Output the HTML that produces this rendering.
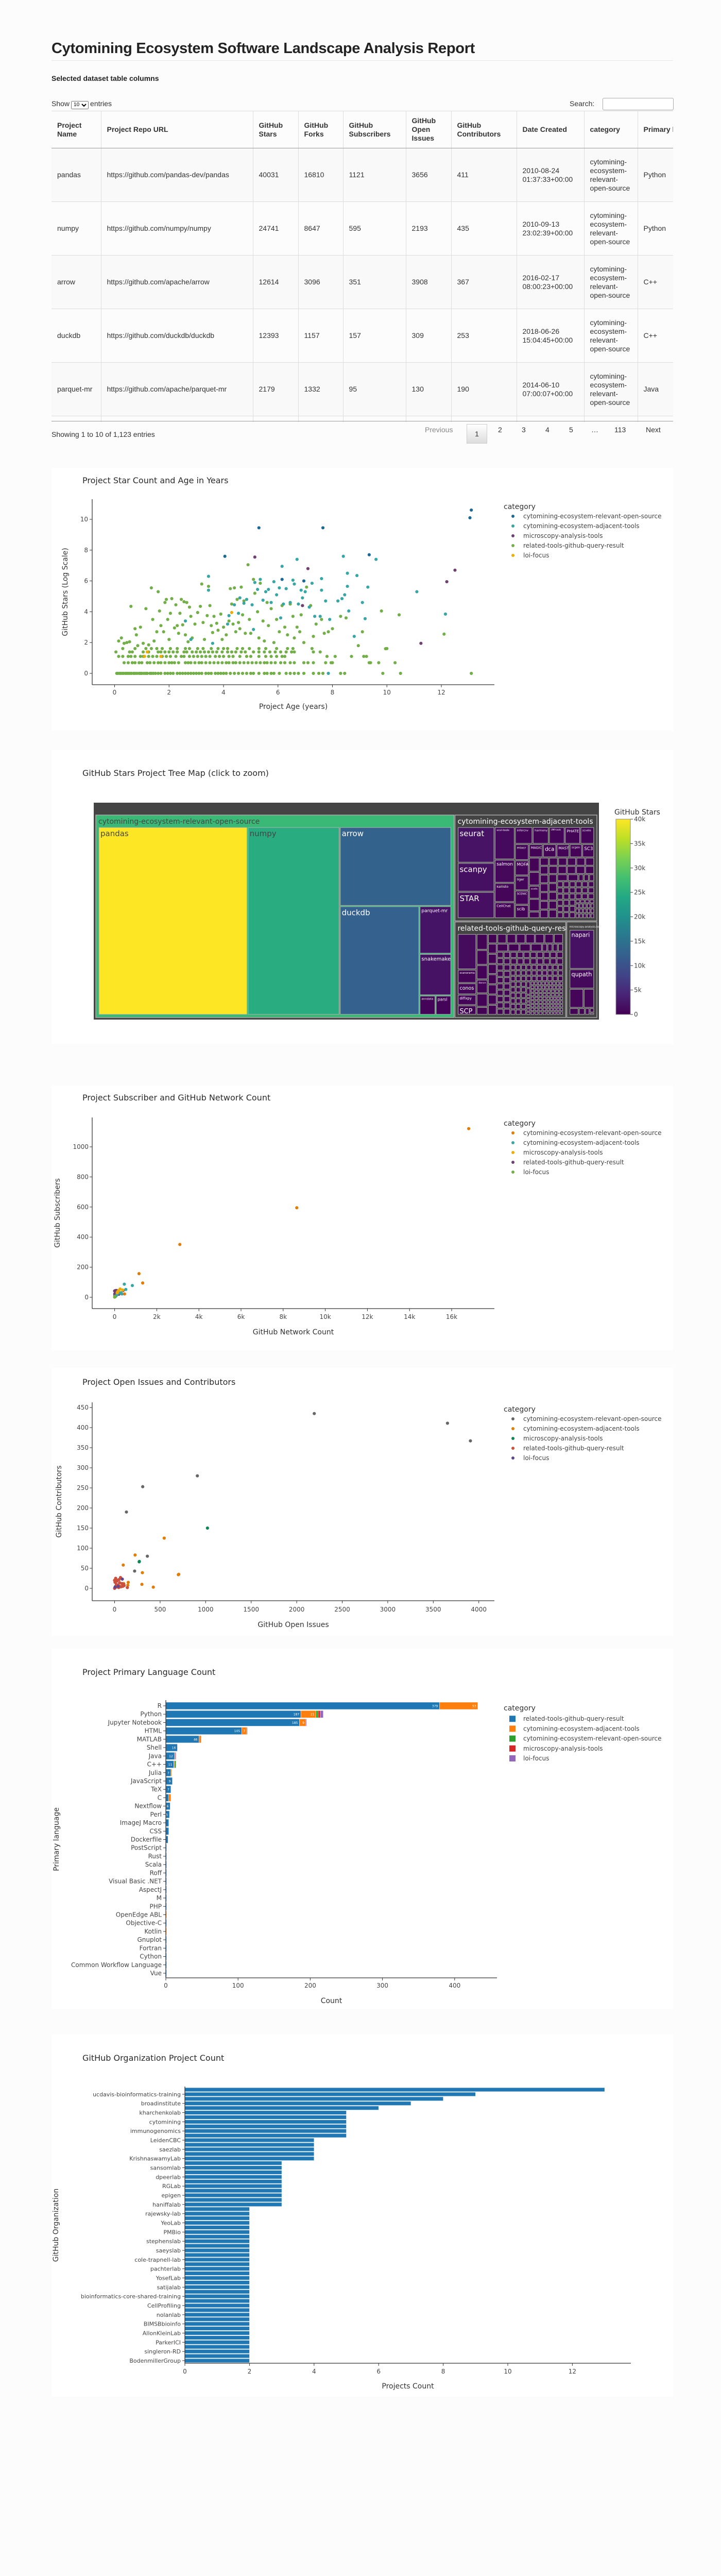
<!DOCTYPE html>
<html><head><meta charset="utf-8">
<style>
html{margin:0;padding:0;width:1400px;height:5200px;overflow:hidden}
body{margin:0;padding:0;width:1400px;height:5200px;background:#fcfcfc;position:relative;font-family:"Liberation Sans",Arial,sans-serif;color:#333;overflow:hidden}
.card{position:absolute;left:100px;width:1207px;background:#fff}
h1{position:absolute;left:100px;top:78px;margin:0;font-size:29px;font-weight:bold;color:#222;letter-spacing:-0.3px}
.hr{position:absolute;left:100px;top:117px;width:1207px;height:1px;background:#e6e6e6}
.sub{position:absolute;left:100px;top:144px;font-size:14px;font-weight:bold;color:#222}
.show{position:absolute;left:100px;top:193px;font-size:14px}
.show select{font-size:10px;height:16px;margin:0 3px}
.search{position:absolute;left:1106px;top:193px;font-size:14px}
.search input{position:absolute;left:64px;top:-3px;width:132px;height:20px;border:1px solid #aaa;border-radius:3px}
.tw{position:absolute;left:100px;top:215px;width:1207px;height:603px;overflow:hidden;border-top:1px solid #ddd}
table{border-collapse:collapse;table-layout:fixed;width:1300px;font-size:14px}
th{height:71px;text-align:left;vertical-align:middle;padding:0 11px;font-weight:bold;border-bottom:1px solid #999;border-right:1px solid #ddd;line-height:17px;position:relative}
td{height:103px;padding:0 11px;border-right:1px solid #ddd;border-bottom:1px solid #ddd;line-height:17px;vertical-align:middle}
tr.odd td{background:#f9f9f9}
.tbot{position:absolute;left:100px;top:817px;width:1207px;height:1px;background:#999}
.info{position:absolute;left:100px;top:835px;font-size:14px}
.pg{position:absolute;top:826px;font-size:14px;color:#333}
.pg.cur{border:1px solid #ccc;background:linear-gradient(#fff,#ddd);width:38px;height:36px;top:823px;text-align:center;line-height:36px;left:906px}
svg{position:absolute;left:0;overflow:hidden}
svg text{font-family:"DejaVu Sans",Verdana,sans-serif}
</style></head><body>
<h1>Cytomining Ecosystem Software Landscape Analysis Report</h1>
<div class="hr"></div>
<div class="sub">Selected dataset table columns</div>
<div class="show">Show<select><option>10</option></select>entries</div>
<div class="search">Search:<input></div>
<div class="tw">
<table>
<colgroup><col style="width:96px"><col style="width:295px"><col style="width:88px"><col style="width:87px"><col style="width:122px"><col style="width:88px"><col style="width:127px"><col style="width:131px"><col style="width:104px"><col style="width:162px"></colgroup>
<thead><tr>
<th>Project Name</th>
<th>Project Repo URL</th>
<th>GitHub Stars</th>
<th>GitHub Forks</th>
<th>GitHub Subscribers</th>
<th>GitHub Open Issues</th>
<th>GitHub Contributors</th>
<th>Date Created</th>
<th>category</th>
<th>Primary language</th>
</tr></thead>
<tbody>
<tr class="odd"><td>pandas</td><td>https://github.com/pandas-dev/pandas</td><td>40031</td><td>16810</td><td>1121</td><td>3656</td><td>411</td><td>2010-08-24 01:37:33+00:00</td><td>cytomining-ecosystem-relevant-open-source</td><td>Python</td></tr>
<tr><td>numpy</td><td>https://github.com/numpy/numpy</td><td>24741</td><td>8647</td><td>595</td><td>2193</td><td>435</td><td>2010-09-13 23:02:39+00:00</td><td>cytomining-ecosystem-relevant-open-source</td><td>Python</td></tr>
<tr class="odd"><td>arrow</td><td>https://github.com/apache/arrow</td><td>12614</td><td>3096</td><td>351</td><td>3908</td><td>367</td><td>2016-02-17 08:00:23+00:00</td><td>cytomining-ecosystem-relevant-open-source</td><td>C++</td></tr>
<tr><td>duckdb</td><td>https://github.com/duckdb/duckdb</td><td>12393</td><td>1157</td><td>157</td><td>309</td><td>253</td><td>2018-06-26 15:04:45+00:00</td><td>cytomining-ecosystem-relevant-open-source</td><td>C++</td></tr>
<tr class="odd"><td>parquet-mr</td><td>https://github.com/apache/parquet-mr</td><td>2179</td><td>1332</td><td>95</td><td>130</td><td>190</td><td>2014-06-10 07:00:07+00:00</td><td>cytomining-ecosystem-relevant-open-source</td><td>Java</td></tr>
<tr><td>snakemake</td><td>https://github.com/snakemake/snakemake</td><td>1900</td><td>460</td><td>40</td><td>900</td><td>280</td><td>2019-10-04 08:58:22+00:00</td><td>cytomining-ecosystem-relevant-open-source</td><td>Python</td></tr>
</tbody></table></div>
<div class="tbot"></div>
<div class="info">Showing 1 to 10 of 1,123 entries</div>
<div class="pg" style="left:825px;color:#888">Previous</div>
<div class="pg cur">1</div>
<div class="pg" style="left:967px">2</div>
<div class="pg" style="left:1013px">3</div>
<div class="pg" style="left:1059px">4</div>
<div class="pg" style="left:1105px">5</div>
<div class="pg" style="left:1148px">…</div>
<div class="pg" style="left:1193px">113</div>
<div class="pg" style="left:1254px">Next</div>

<div class="card" style="top:908px;height:510px"></div>
<div class="card" style="top:1456px;height:570px"></div>
<div class="card" style="top:2107px;height:514px"></div>
<div class="card" style="top:2655px;height:520px"></div>
<div class="card" style="top:3200px;height:700px"></div>
<div class="card" style="top:3948px;height:704px"></div>

<svg id="c1" width="1400" height="520" viewBox="0 900 1400 520" style="top:900px"></svg>
<svg id="c2" width="1400" height="580" viewBox="0 1450 1400 580" style="top:1450px"></svg>
<svg id="c3" width="1400" height="520" viewBox="0 2100 1400 520" style="top:2100px"></svg>
<svg id="c4" width="1400" height="520" viewBox="0 2650 1400 520" style="top:2650px"></svg>
<svg id="c5" width="1400" height="700" viewBox="0 3200 1400 700" style="top:3200px"></svg>
<svg id="c6" width="1400" height="710" viewBox="0 3940 1400 710" style="top:3940px"></svg>

<script>
// ---------- chart 1 data: project age (years) vs ln(stars) ----------
const relAge=[13.1,13.05,5.3,7.65,4.05,9.35,6.15,6.95];
const relStar=[10.6,10.1,9.45,9.45,7.6,7.7,6.1,6.0];
const adjAge=[2.6,2.8,3.45,3.45,3.6,4.15,4.2,4.4,4.55,4.6,4.75,4.85,5.05,5.1,5.15,5.25,5.35,5.45,5.55,5.65,5.75,5.85,5.95,6.05,6.15,6.1,6.2,6.3,6.45,6.55,6.6,6.7,6.75,6.85,6.9,7.0,7.15,7.25,7.35,7.55,7.6,7.6,7.75,7.9,8.2,8.35,8.4,8.45,8.55,8.55,8.6,8.9,8.8,9.1,9.2,9.3,9.6,11.1,12.15,7.85];
const adjStar=[3.4,2.2,6.3,5.4,1.95,3.2,3.75,4.45,3.9,4.9,4.55,4.8,4.45,2.85,5.9,5.45,6.1,4.75,5.3,5.45,4.6,5.95,5.1,5.55,6.95,3.6,4.5,5.5,4.6,6.05,5.8,7.4,4.5,5.4,4.9,5.3,4.3,5.85,3.7,3.7,6.15,5.4,4.7,3.5,4.7,4.85,7.6,5.1,6.5,5.65,4.05,6.35,2.4,4.6,3.55,5.6,7.4,5.3,3.85,0];
const micAge=[5.15,7.1,12.5,12.2,6.9,11.25];
const micStar=[7.55,6.8,6.7,5.95,4.4,1.95];
const relAgeG=[0.08,0.12,0.18,0.22,0.28,0.33,0.4,0.45,0.5,0.56,0.62,0.7,0.75,0.82,0.9,0.95,1.0,1.08,1.15,1.2,1.3,1.35,1.42,1.5,1.6,1.7,1.85,1.95,2.05,2.15,2.3,2.4,2.5,2.6,2.7,2.8,2.9,3.0,3.1,3.2,3.35,3.45,3.55,3.7,3.8,3.9,4.0,4.1,4.25,4.4,4.55,4.7,4.85,5.0,5.1,5.3,5.5,5.6,5.75,5.85,6.05,6.3,6.45,6.6,6.75,6.95,7.3,7.5,7.65,8.3,8.45,9.85,10.5,13.1,
0.35,0.5,0.65,0.75,0.9,1.0,1.2,1.3,1.45,1.6,1.7,1.85,2.0,2.1,2.2,2.35,2.6,2.7,2.8,2.95,3.1,3.2,3.35,3.5,3.65,3.8,3.95,4.1,4.2,4.35,4.45,4.6,4.75,4.9,5.05,5.2,5.35,5.5,5.6,5.75,5.9,6.1,6.25,6.45,6.6,6.95,7.1,7.3,7.75,7.95,8.0,9.35,9.4,9.7,10.3,
0.15,0.3,0.5,0.6,0.75,0.95,1.05,1.25,1.4,1.55,1.75,1.9,2.05,2.25,2.45,2.55,2.75,2.9,3.05,3.2,3.35,3.5,3.7,3.85,4.0,4.2,4.35,4.6,4.85,5.0,5.3,5.55,5.75,5.95,6.15,6.25,7.8,8.1,8.7,9.15,9.25,
0.05,0.55,0.65,1.05,1.25,1.6,1.7,1.85,2.0,2.15,2.3,2.55,2.65,2.85,3.0,3.15,3.3,3.45,3.6,3.75,3.95,4.15,4.3,4.45,4.65,4.8,5.1,5.3,5.5,5.7,5.9,6.1,6.3,6.5,6.6,7.3,7.55,
0.3,0.75,1.15,1.35,1.55,1.75,2.05,2.3,2.6,2.75,3.05,3.25,3.55,3.8,4.0,4.15,4.5,4.7,4.95,5.3,5.55,5.95,6.35,6.55,7.25,10.0,
0.15,0.25,0.35,0.45,0.55,0.6,0.75,0.8,0.85,0.95,1.05,1.15,1.25,1.35,1.4,1.45,1.55,1.6,1.65,1.7,1.8,1.85,1.9,1.95,2.0,2.05,2.1,2.2,2.25,2.3,2.35,2.4,2.45,2.5,2.55,2.6,2.65,2.7,2.75,2.8,2.85,2.95,3.05,3.15,3.2,3.25,3.3,3.4,3.45,3.5,3.55,3.6,3.65,3.75,3.8,3.9,3.95,4.0,4.1,4.2,4.25,4.3,4.35,4.4,4.45,4.5,4.55,4.6,4.65,4.7,4.75,4.8,4.9,4.95,5.0,5.1,5.15,5.25,5.3,5.35,5.45,5.5,5.6,5.65,5.75,5.85,5.95,6.05,6.15,6.25,6.35,6.45,6.55,6.6,6.7,6.8,6.85,6.95,7.05,7.2,7.3,7.4,7.6,7.7,7.85,8.0,8.3,8.5,9.1,8.95,9.8,9.95,10.45,12.1];
const relStarG=[0,0,0,0,0,0,0,0,0,0,0,0,0,0,0,0,0,0,0,0,0,0,0,0,0,0,0,0,0,0,0,0,0,0,0,0,0,0,0,0,0,0,0,0,0,0,0,0,0,0,0,0,0,0,0,0,0,0,0,0,0,0,0,0,0,0,0,0,0,0,0,0,0,0,
0.69,0.69,0.69,0.69,0.69,0.69,0.69,0.69,0.69,0.69,0.69,0.69,0.69,0.69,0.69,0.69,0.69,0.69,0.69,0.69,0.69,0.69,0.69,0.69,0.69,0.69,0.69,0.69,0.69,0.69,0.69,0.69,0.69,0.69,0.69,0.69,0.69,0.69,0.69,0.69,0.69,0.69,0.69,0.69,0.69,0.69,0.69,0.69,0.69,0.69,0.69,0.69,0.69,0.69,0.69,
1.1,1.1,1.1,1.1,1.1,1.1,1.1,1.1,1.1,1.1,1.1,1.1,1.1,1.1,1.1,1.1,1.1,1.1,1.1,1.1,1.1,1.1,1.1,1.1,1.1,1.1,1.1,1.1,1.1,1.1,1.1,1.1,1.1,1.1,1.1,1.1,1.1,1.1,1.1,1.1,1.1,
1.39,1.39,1.39,1.39,1.39,1.39,1.39,1.39,1.39,1.39,1.39,1.39,1.39,1.39,1.39,1.39,1.39,1.39,1.39,1.39,1.39,1.39,1.39,1.39,1.39,1.39,1.39,1.39,1.39,1.39,1.39,1.39,1.39,1.39,1.39,1.39,1.39,
1.61,1.61,1.61,1.61,1.61,1.61,1.61,1.61,1.61,1.61,1.61,1.61,1.61,1.61,1.61,1.61,1.61,1.61,1.61,1.61,1.61,1.61,1.61,1.61,1.61,1.61,
2.1,2.3,1.95,2.0,2.05,4.35,2.9,2.5,1.8,3.0,1.95,4.2,1.85,5.55,3.5,2.1,2.7,5.3,4.05,3.1,2.7,4.6,4.8,3.5,2.2,3.9,4.85,2.95,4.45,3.1,2.6,3.9,4.8,3.15,4.65,2.5,4.6,2.05,4.3,3.7,2.3,3.2,3.95,4.35,5.8,3.3,2.2,3.75,5.65,4.4,3.1,2.65,3.7,3.25,2.8,3.85,2.2,3.0,2.5,3.4,5.5,4.5,3.2,5.55,2.7,4.8,3.3,2.9,5.6,3.8,4.7,2.6,7.05,3.5,2.6,6.1,5.2,4.0,2.3,5.85,3.4,2.1,4.6,3.1,4.2,2.0,3.5,2.7,4.4,3.0,2.5,4.5,3.7,2.3,3.0,2.7,3.8,2.0,5.6,4.4,2.4,3.2,3.5,2.6,2.7,2.9,3.7,3.6,2.7,1.8,4.05,1.6,3.8,2.55];
const loiAge=[4.3,1.1,1.7,1.2];
const loiStar=[3.95,1.1,1.1,1.39];
const c1Cats=['cytomining-ecosystem-relevant-open-source','cytomining-ecosystem-adjacent-tools','microscopy-analysis-tools','related-tools-github-query-result','loi-focus'];
const c1Ticks=[0,2,4,6,8,10,12];
const c1YTicks=[0,2,4,6,8,10];

// ---------- chart 3 data: network count vs subscribers ----------
const s_relX=[16810,8647,3096,1157,1332,470];
const s_relY=[1121,595,351,157,95,22];
const s_adjX=[460,840,530,300,200,350,100,60,20];
const s_adjY=[87,78,52,30,28,22,15,8,3];
const s_micX=[260,200,380,150,120];
const s_micY=[55,45,48,38,30];
const s_reX=[50,100,0,150,30,80,120,10,60,200,400,20,5];
const s_reY=[45,45,42,35,30,25,20,15,10,20,45,5,22];
const s_loiX=[5,10,0,15,20];
const s_loiY=[2,3,1,4,6];
const s3Cats=['cytomining-ecosystem-relevant-open-source','cytomining-ecosystem-adjacent-tools','microscopy-analysis-tools','related-tools-github-query-result','loi-focus'];
const s3XTicks=[0,2000,4000,6000,8000,10000,12000,14000,16000];
const s3XLabels=['0','2k','4k','6k','8k','10k','12k','14k','16k'];
const s3YTicks=[0,200,400,600,800,1000];

// ---------- chart 4 data: open issues vs contributors ----------
const i_relX=[3656,2193,3908,309,130,909,360,220];
const i_relY=[411,435,367,253,190,280,80,43];
const i_adjX=[545,225,95,700,705,305,425,300,150,145,100,60,0];
const i_adjY=[125,83,58,34,35,39,3,10,15,8,12,5,20];
const i_micX=[1020,270,272];
const i_micY=[150,66,67];
const i_reX=[0,10,20,5,30,50,65,40,80,15,25,90,100,45,55,70,0,12,35,140,105];
const i_reY=[0,5,10,15,20,22,27,8,12,3,18,5,10,2,14,4,20,25,6,2,7];
const i_loiX=[85,40,5];
const i_loiY=[23,5,3];
const i4XTicks=[0,500,1000,1500,2000,2500,3000,3500,4000];
const i4YTicks=[0,50,100,150,200,250,300,350,400,450];

// ---------- chart 5 data: primary languages ----------
const languages=['R','Python','Jupyter Notebook','HTML','MATLAB','Shell','Java','C++','Julia','JavaScript','TeX','C','Nextflow','Perl','ImageJ Macro','CSS','Dockerfile','PostScript','Rust','Scala','Roff','Visual Basic .NET','AspectJ','M','PHP','OpenEdge ABL','Objective-C','Kotlin','Gnuplot','Fortran','Cython','Common Workflow Language','Vue'];
const langRelated=[379,187,185,105,46,16,12,11,7,9,7,4,6,5,4,4,3,1,1,1,1,1,1,1,1,0,1,0,1,1,1,1,1];
const langAdjacent=[53,21,9,7,3,0,1,1,1,0,0,3,0,0,0,0,0,0,0,0,0,0,0,0,0,1,0,1,0,0,0,0,0];
const langRelevant=[0,3,0,1,0,0,0,2,0,0,0,0,0,0,0,0,0,0,0,0,0,0,0,0,0,0,0,0,0,0,0,0,0];
const langMicro=[0,3,0,0,0,0,1,0,0,0,0,0,0,0,0,0,0,0,0,0,0,0,0,0,0,0,0,0,0,0,0,0,0];
const langLoi=[0,4,1,0,0,0,0,0,0,0,0,0,0,0,0,0,0,0,0,0,0,0,0,0,0,0,0,0,0,0,0,0,0];
const langSeries=['related-tools-github-query-result','cytomining-ecosystem-adjacent-tools','cytomining-ecosystem-relevant-open-source','microscopy-analysis-tools','loi-focus'];
const langXTicks=[0,100,200,300,400];

// ---------- chart 6 data: organizations ----------
const orgs=['nf-core','ucdavis-bioinformatics-training','scverse','broadinstitute','COMBINE-lab','kharchenkolab','hms-dbmi','cytomining','aertslab','immunogenomics','Teichlab','LeidenCBC','MarioniLab','saezlab','welch-lab','KrishnaswamyLab','chanzuckerberg','sansomlab','calico','dpeerlab','GreenleafLab','RGLab','vals','epigen','jkobject','haniffalab','Bioconductor','rajewsky-lab','sqjin','YeoLab','cellgeni','PMBio','SydneyBioX','stephenslab','YuLab-SMU','saeyslab','mousepixels','cole-trapnell-lab','gtca','pachterlab','bioFAM','YosefLab','kstreet13','satijalab','jingshuw','bioinformatics-core-shared-training','ChenMengjie','CellProfiling','hemberg-lab','nolanlab','yanwu2014','BIMSBbioinfo','csglab','AllonKleinLab','zhanghao-njmu','ParkerICI','JinmiaoChenLab','singleron-RD','kieranrcampbell','BodenmillerGroup'];
const orgCounts=[13,9,8,7,6,5,5,5,5,5,5,4,4,4,4,4,3,3,3,3,3,3,3,3,3,3,2,2,2,2,2,2,2,2,2,2,2,2,2,2,2,2,2,2,2,2,2,2,2,2,2,2,2,2,2,2,2,2,2,2];
const orgXTicks=[0,2,4,6,8,10,12];

// ---------- chart 2 data: treemap ----------
const relNames=['pandas','numpy','arrow','duckdb','parquet-mr','snakemake','anndata','parsl'];
const relStars=[40031,24741,12614,12393,2179,1900,450,440];
const adjNames=['seurat','scanpy','STAR','scvi-tools','salmon','kallisto','CellChat','infercnv','harmony','UMI-tools','PHATE','scvelo','mixcr','MOFA','liger','SCENIC','scib','MAGIC','dca','MAST','scgen','SC3','palantir','splatter','scode','SingleR'];
const adjStars=[2100,1700,1550,1050,750,620,520,480,440,430,420,380,360,340,330,320,300,300,290,280,270,260,250,240,230,220,
120,120,120,120,120,120,120,120,120,120,120,120,120,120,120,120,120,120,120,120,120,120,120,120,120,
60,60,60,60,60,60,60,60,60,60,60,60,60,60,60,60,60,60,60,60,60,60,60,60,60,60,60,60,60,60,
30,30,30,30,30,30,30,30,30,30,30,30,30,30,30,30,30,30,30];
const reNames=['singlecell-tutorial','scanorama','conos','diffxpy','SCP','squidpy','deepcell-tf','scRNA-seq_notes','dance','signac'];
const reStars=[1100,420,350,330,300,300,280,270,260,250,
150,150,150,150,150,150,150,150,150,150,150,150,150,150,150,150,150,150,150,150,
70,70,70,70,70,70,70,70,70,70,70,70,70,70,70,70,70,70,70,70,70,70,70,70,70,70,70,70,70,70,70,70,70,70,70,70,70,70,70,70,
48,48,48,48,48,48,48,48,48,48,48,48,48,48,48,48,48,48,48,48,48,48,48,48,48,48,48,48,48,48,48,48,48,48,48,48,48,48,48,48,48,48,48,48,48,48,48,48,48,48,
24,24,24,24,24,24,24,24,24,24,24,24,24,24,24,24,24,24,24,24,24,24,24,24,24,24,24,24,24,24,24,24,24,24,24,24,24,24,24,24,24,24,24,24,24,24,24,24,24,24,24,24,24,24,24,24,24,24,24,24,
20,20,20,20,20,20,20,20,20,20,20,20,20,20,20,20,20,20,20,20,20,20,20,20,20];
const micNames=['napari','qupath','CellProfiler','ilastik'];
const micStars=[1800,900,500,380,120,80,60,40,20];
const groupNames=['cytomining-ecosystem-relevant-open-source','cytomining-ecosystem-adjacent-tools','related-tools-github-query-result','microscopy-analysis-tools'];
const cbTicks=[0,5000,10000,15000,20000,25000,30000,35000,40000];
const cbLabels=['0','5k','10k','15k','20k','25k','30k','35k','40k'];

// ---------- helpers ----------
const NS='http://www.w3.org/2000/svg';
function mk(parent,tag,attrs,txt){const e=document.createElementNS(NS,tag);for(const k in attrs)e.setAttribute(k,attrs[k]);if(txt!==undefined)e.textContent=txt;parent.appendChild(e);return e;}
function lin(d0,d1,r0,r1){return v=>r0+(v-d0)*(r1-r0)/(d1-d0);}

function title(svg,x,y,t,nm){const e=mk(svg,'text',{x:x,y:y,'font-size':16,fill:'#2a2a2a'},t);

}

function axes(svg,o){
 const ax=mk(svg,'line',{x1:o.x0,x2:o.x1,y1:o.yBot,y2:o.yBot,stroke:'#333','stroke-width':1.3});
 
 
 const ay=mk(svg,'line',{x1:o.x0,x2:o.x0,y1:o.yTop,y2:o.yBot,stroke:'#333','stroke-width':1.3});
 
 
 o.xt.forEach((v,i)=>{const X=o.xs(v);
  mk(svg,'line',{x1:X,x2:X,y1:o.yBot,y2:o.yBot+5,stroke:'#333'});
  const t=mk(svg,'text',{x:X,y:o.xtY,'font-size':12,'text-anchor':'middle',fill:'#444'},o.xl[i]);
  
  });
 o.yt.forEach((v,i)=>{const Y=o.ys(v);
  mk(svg,'line',{x1:o.x0-5,x2:o.x0,y1:Y,y2:Y,stroke:'#333'});
  const t=mk(svg,'text',{x:o.ylX,y:Y+4,'font-size':o.yfs||12,'text-anchor':'end',fill:'#444'},o.yl[i]);
  
  });
 const xt=mk(svg,'text',{x:(o.x0+o.x1)/2,y:o.xTitleY,'font-size':14,'text-anchor':'middle',fill:'#333'},o.xTitle);
 
 
 const yc=o.yTitleY||(o.yTop+o.yBot)/2;
 const yt=mk(svg,'text',{x:o.yTitleX,y:yc,'font-size':14,'text-anchor':'middle',fill:'#333',transform:`rotate(-90 ${o.yTitleX} ${yc})`},o.yTitle);
 
 
}
function legend(svg,x,y,step,cats,cols,square){
 const h=mk(svg,'text',{x:x,y:y+5,'font-size':14,fill:'#333'},'category');
 
 
 cats.forEach((c,i)=>{const Y=y+step*(i+1)+ (square?2:0);
  const g=mk(svg,'g',{});
  
  
  if(square)mk(g,'rect',{x:x+11,y:Y-6,width:12,height:12,fill:cols[i]});
  else mk(g,'circle',{cx:x+18,cy:Y,r:3,fill:cols[i]});
  mk(g,'text',{x:x+38,y:Y+4,'font-size':12,fill:'#444'},c);});
}
function pts(svg,xs,ys,X,Y,col,nm){X.forEach((v,i)=>{const c=mk(svg,'circle',{cx:xs(v),cy:ys(Y[i]),r:3.1,fill:col});
 
 });}

// ---------- chart 1 ----------
(function(){const s=document.getElementById('c1');
 title(s,160,938,'Project Star Count and Age in Years','chart-title');
 const xs=lin(0,12,222.5,857),ys=lin(0,10,1307,1008);
 axes(s,{x0:179,x1:960,yTop:969,yBot:1329,xs:xs,ys:ys,xt:c1Ticks,xl:c1Ticks.map(String),yt:c1YTicks,yl:c1YTicks.map(String),xtY:1348,xTitleY:1376,xTitle:'Project Age (years)',yTitle:'GitHub Stars (Log Scale)',yTitleX:131,ylX:171});
 const cols=['#1D6996','#38A6A5','#6F4070','#73AF48','#EDAD08'];
 pts(s,xs,ys,relAgeG,relStarG,cols[3],'point-related');
 pts(s,xs,ys,adjAge,adjStar,cols[1],'point-adjacent');
 pts(s,xs,ys,micAge,micStar,cols[2],'point-microscopy');
 pts(s,xs,ys,relAge,relStar,cols[0],'point-relevant');
 pts(s,xs,ys,loiAge,loiStar,cols[4],'point-loi');
 legend(s,978,983,19,c1Cats,cols);
})();

// ---------- chart 3 ----------
(function(){const s=document.getElementById('c3');
 title(s,160,2136,'Project Subscriber and GitHub Network Count','chart-title');
 const xs=lin(0,16000,222.6,877),ys=lin(0,1000,2518,2226);
 axes(s,{x0:179,x1:960,yTop:2169,yBot:2540,xs:xs,ys:ys,xt:s3XTicks,xl:s3XLabels,yt:s3YTicks,yl:s3YTicks.map(String),xtY:2560,xTitleY:2590,xTitle:'GitHub Network Count',yTitle:'GitHub Subscribers',yTitleX:116,ylX:172});
 const cols=['#E17C05','#38A6A5','#EDAD08','#6F4070','#73AF48'];
 pts(s,xs,ys,s_reX,s_reY,cols[3],'point-related');
 pts(s,xs,ys,s_adjX,s_adjY,cols[1],'point-adjacent');
 pts(s,xs,ys,s_micX,s_micY,cols[2],'point-microscopy');
 pts(s,xs,ys,s_relX,s_relY,cols[0],'point-relevant');
 pts(s,xs,ys,s_loiX,s_loiY,cols[4],'point-loi');
 legend(s,978,2180,19,s3Cats,cols);
})();

// ---------- chart 4 ----------
(function(){const s=document.getElementById('c4');
 title(s,160,2688,'Project Open Issues and Contributors','chart-title');
 const xs=lin(0,500,222.5,310.9),ys=lin(0,450,3083,2732);
 axes(s,{x0:179,x1:960,yTop:2722,yBot:3107,xs:xs,ys:ys,xt:i4XTicks,xl:i4XTicks.map(String),yt:i4YTicks,yl:i4YTicks.map(String),xtY:3128,xTitleY:3158,xTitle:'GitHub Open Issues',yTitle:'GitHub Contributors',yTitleX:119,ylX:172});
 const cols=['#666666','#E17C05','#0F8554','#CC503E','#5F4690'];
 pts(s,xs,ys,i_adjX,i_adjY,cols[1],'point-adjacent');
 pts(s,xs,ys,i_reX,i_reY,cols[3],'point-related');
 pts(s,xs,ys,i_relX,i_relY,cols[0],'point-relevant');
 pts(s,xs,ys,i_micX,i_micY,cols[2],'point-microscopy');
 pts(s,xs,ys,i_loiX,i_loiY,cols[4],'point-loi');
 legend(s,978,2735,19,s3Cats,cols);
})();

// ---------- chart 5 ----------
(function(){const s=document.getElementById('c5');
 title(s,160,3251,'Project Primary Language Count','chart-title');
 const xs=lin(0,100,322,462.2);
 const step=(3830-3311)/(languages.length-1);
 const yc=i=>3311+i*step;
 const series=[langRelated,langAdjacent,langRelevant,langMicro,langLoi];
 const cols=['#1f77b4','#ff7f0e','#2ca02c','#d62728','#9467bd'];
 languages.forEach((l,i)=>{let acc=0;
  series.forEach((sr,k)=>{const v=sr[i];if(!v)return;
   const x0=xs(acc),x1=xs(acc+v);acc+=v;
   const r=mk(s,'rect',{x:x0,y:yc(i)-7,width:Math.max(0.8,x1-x0),height:14,fill:cols[k],stroke:'#e8eef5','stroke-width':0.6});
   
   
   if(x1-x0>7){const t=mk(s,'text',{x:x1-3,y:yc(i)+2.5,'font-size':6,'text-anchor':'end',fill:'#fff'},String(v));
    
    }
  });});
 axes(s,{x0:322,x1:965,yTop:3300,yBot:3839,xs:xs,ys:v=>v,xt:langXTicks,xl:langXTicks.map(String),yt:languages.map((l,i)=>yc(i)),yl:languages,xtY:3858,xTitleY:3888,xTitle:'Count',yTitle:'Primary language',yTitleX:114,yTitleY:3570,ylX:314});
 legend(s,978,3315,19.2,langSeries,cols,true);
})();

// ---------- chart 6 ----------
(function(){const s=document.getElementById('c6');
 title(s,160,4000,'GitHub Organization Project Count','chart-title');
 const xs=lin(0,2,359,484.4);
 const step=(4582-4056)/(orgs.length-1);
 const yc=i=>4056+i*step;
 orgs.forEach((o,i)=>{const r=mk(s,'rect',{x:xs(0),y:yc(i)-3.8,width:xs(orgCounts[i])-xs(0),height:7.6,fill:'#1f77b4',stroke:'#dfe8f2','stroke-width':0.6});
  
  });
 const idx=orgs.map((o,i)=>i).filter(i=>i%2===1);
 axes(s,{x0:359,x1:1225,yTop:4050,yBot:4587,xs:xs,ys:v=>v,xt:orgXTicks,xl:orgXTicks.map(String),yt:idx.map(yc),yl:idx.map(i=>orgs[i]),yfs:11,xtY:4607,xTitleY:4636,xTitle:'Projects Count',yTitle:'GitHub Organization',yTitleX:113,yTitleY:4319,ylX:351});
})();

// ---------- chart 2: treemap ----------
(function(){const s=document.getElementById('c2');
 title(s,160,1506,'GitHub Stars Project Tree Map (click to zoom)','chart-title');
 const vst=[[0,'#440154'],[.1,'#482475'],[.2,'#414487'],[.3,'#355f8d'],[.4,'#2a788e'],[.5,'#21918c'],[.6,'#22a884'],[.7,'#44bf70'],[.8,'#7ad151'],[.9,'#bddf26'],[1,'#fde725']];
 function hx(h){return [1,3,5].map(i=>parseInt(h.substr(i,2),16));}
 function vir(t){t=Math.max(0,Math.min(1,t));for(let i=1;i<vst.length;i++){if(t<=vst[i][0]){const a=vst[i-1],b=vst[i],f=(t-a[0])/(b[0]-a[0]);const A=hx(a[1]),B=hx(b[1]);return 'rgb('+A.map((c,j)=>Math.round(c+(B[j]-c)*f)).join(',')+')';}}return vst[10][1];}
 const CMAX=40000;
 function squarify(vals,x0,y0,x1,y1){const out=[];let i0=0,i1=0,n=vals.length;let value=vals.reduce((a,b)=>a+b,0);
  while(i0<n){const dx=x1-x0,dy=y1-y0;let sum=vals[i1++];let mn=sum,mx=sum;
   const alpha=Math.max(dy/dx,dx/dy)/value;let beta=sum*sum*alpha;let minR=Math.max(mx/beta,beta/mn);
   for(;i1<n;++i1){const nv=vals[i1];sum+=nv;if(nv<mn)mn=nv;if(nv>mx)mx=nv;beta=sum*sum*alpha;const nr=Math.max(mx/beta,beta/mn);if(nr>minR){sum-=nv;break;}minR=nr;}
   if(dx<dy){const h=sum/value*dy;let x=x0;for(let k=i0;k<i1;k++){const w=vals[k]/sum*dx;out[k]=[x,y0,w,h];x+=w;}y0+=h;}
   else{const w=sum/value*dx;let y=y0;for(let k=i0;k<i1;k++){const h=vals[k]/sum*dy;out[k]=[x0,y,w,h];y+=h;}x0+=w;}
   value-=sum;i0=i1;}
  return out;}
 const root=mk(s,'rect',{x:182,y:1558,width:981,height:421,fill:'#444'});
 
 
 const groups=[[relNames,relStars],[adjNames,adjStars],[reNames,reStars],[micNames,micStars]];
 const sums=groups.map(g=>g[1].reduce((a,b)=>a+b,0));
 const gr=squarify(sums,185,1581,1160,1976);
 groups.forEach((g,gi)=>{const [x,y,w,h]=gr[gi];
  const wavg=g[1].reduce((a,b)=>a+b*b,0)/sums[gi];
  const gcol=wavg/CMAX>0.2?vir(wavg/CMAX):'#444';
  const gRect=mk(s,'rect',{x:x+1,y:y+1,width:w-2,height:h-2,fill:gcol,stroke:'#aaa','stroke-width':1.5});
  
  
  const hdr=w>100;
  const fsG=hdr?14:5;
  const gl=mk(s,'text',{x:x+6,y:y+(hdr?18:12),'font-size':fsG,fill:gcol==='#444'?'#fff':'#444'},groupNames[gi]);
  
  
  const top=hdr?24:16;
  const tiles=squarify(g[1],x+6,y+top,x+w-6,y+h-6);
  tiles.forEach((t,k)=>{const [tx,ty,tw,th]=t;const v=g[1][k];
   const r=mk(s,'rect',{x:tx+1.2,y:ty+1.2,width:Math.max(0.5,tw-2.4),height:Math.max(0.5,th-2.4),fill:vir(v/CMAX),stroke:'#b0b0b0','stroke-width':1});
   
   
   const nm=g[0][k];
   if(nm){const fs=Math.min(15,(tw-8)/(nm.length*0.6),th-6);
    if(fs>=4){const lab=mk(s,'text',{x:tx+4,y:ty+3+fs,'font-size':fs,fill:v/CMAX>0.55?'#444':'#fff'},nm);
     
     }}
  });
 });
 const defs=mk(s,'defs',{});const lg=mk(defs,'linearGradient',{id:'vg',x1:0,y1:1,x2:0,y2:0});
 vst.forEach(st=>mk(lg,'stop',{offset:st[0],'stop-color':st[1]}));
 const cb=mk(s,'rect',{x:1196,y:1590,width:28,height:379,fill:'url(#vg)',stroke:'#888','stroke-width':1});
 
 
 const ct=mk(s,'text',{x:1193,y:1581,'font-size':14,fill:'#333'},'GitHub Stars');
 
 
 const cy=lin(0,40000,1969,1590);
 cbTicks.forEach((v,i)=>{mk(s,'line',{x1:1224,x2:1229,y1:cy(v),y2:cy(v),stroke:'#444'});
  const t=mk(s,'text',{x:1231,y:cy(v)+4,'font-size':12,fill:'#444'},cbLabels[i]);
  
  });
})();
</script>
</body></html>
